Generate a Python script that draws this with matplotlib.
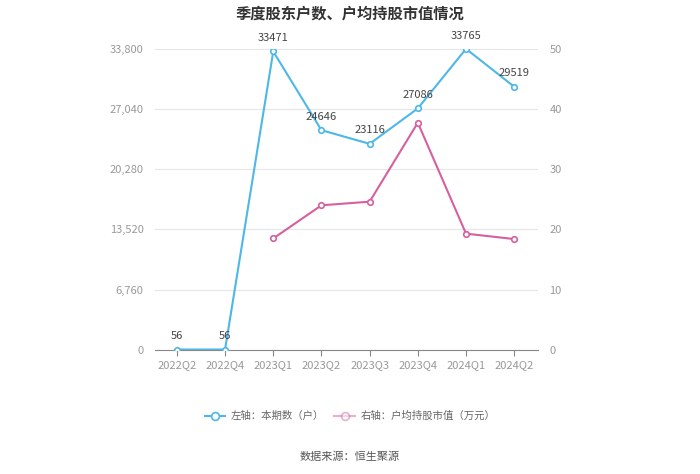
import matplotlib
matplotlib.use("Agg")
import matplotlib.pyplot as plt
import numpy as np

plt.rcParams["font.family"] = ["Noto Sans CJK SC", "DejaVu Sans"]

quarters = ["2022Q2", "2022Q4", "2023Q1", "2023Q2", "2023Q3", "2023Q4", "2024Q1", "2024Q2"]
holders = [56, 56, 33471, 24646, 23116, 27086, 33765, 29519]
avg_value = [np.nan, np.nan, 18.5, 24.0, 24.6, 37.7, 19.3, 18.4]
left_ticks = [0, 6760, 13520, 20280, 27040, 33800]
right_ticks = [0, 10, 20, 30, 40, 50]

BLUE = "#4db8e8"
PINK = "#d6609f"
GRID = "#e6e6e6"
TXT = "#999999"

fig = plt.figure(figsize=(7, 4.74), dpi=100)
ax = fig.add_axes([0.221, 0.2616, 0.548, 0.636])
ax2 = ax.twinx()

x = np.arange(len(quarters))
ax.plot(x, holders, color=BLUE, lw=1.5, marker="o", ms=4, mfc="white",
        mec=BLUE, mew=1.2, zorder=3, label="左轴：本期数（户）")
for xi, v in zip(x, holders):
    ax.annotate(str(v), (xi, v), textcoords="offset points", xytext=(0, 6),
                ha="center", va="bottom", fontsize=8, color="#444444")

ax2.plot(x, avg_value, color=PINK, lw=1.5, marker="o", ms=4, mfc="white",
         mec=PINK, mew=1.2, zorder=3, label="右轴：户均持股市值（万元）")

ax.set_xlim(-0.46, len(quarters) - 0.5)
ax.set_ylim(0, 33800)
ax2.set_ylim(0, 50)
ax.set_yticks(left_ticks)
ax.set_yticklabels([f"{t:,}" for t in left_ticks])
ax2.set_yticks(right_ticks)
ax.set_xticks(x)
ax.set_xticklabels(quarters)

ax.grid(axis="y", color=GRID, lw=0.8)
ax.set_axisbelow(True)
for a in (ax, ax2):
    for s in ("top", "left", "right"):
        a.spines[s].set_visible(False)
    a.tick_params(axis="y", length=0, labelsize=8, labelcolor=TXT, pad=8)
ax.spines["bottom"].set_color("#888888")
ax2.spines["bottom"].set_visible(False)
ax.tick_params(axis="x", length=4, color="#888888", labelsize=8, labelcolor=TXT)

fig.text(0.5, 0.972, "季度股东户数、户均持股市值情况", ha="center", va="center",
         fontsize=11, fontweight="bold", color="#333333")

h1, l1 = ax.get_legend_handles_labels()
h2, l2 = ax2.get_legend_handles_labels()
leg = fig.legend(h1 + h2, l1 + l2, loc="center", bbox_to_anchor=(0.5, 0.122),
                 ncol=2, frameon=False, fontsize=7.5, handlelength=2.0,
                 columnspacing=1.0, handletextpad=0.5, markerscale=1.4)
for t in leg.get_texts():
    t.set_color("#666666")
leg.legend_handles[1].set_alpha(0.5)

fig.text(0.5, 0.036, "数据来源：恒生聚源", ha="center", va="center",
         fontsize=8, color="#555555")

fig.savefig("out.png", dpi=100)
